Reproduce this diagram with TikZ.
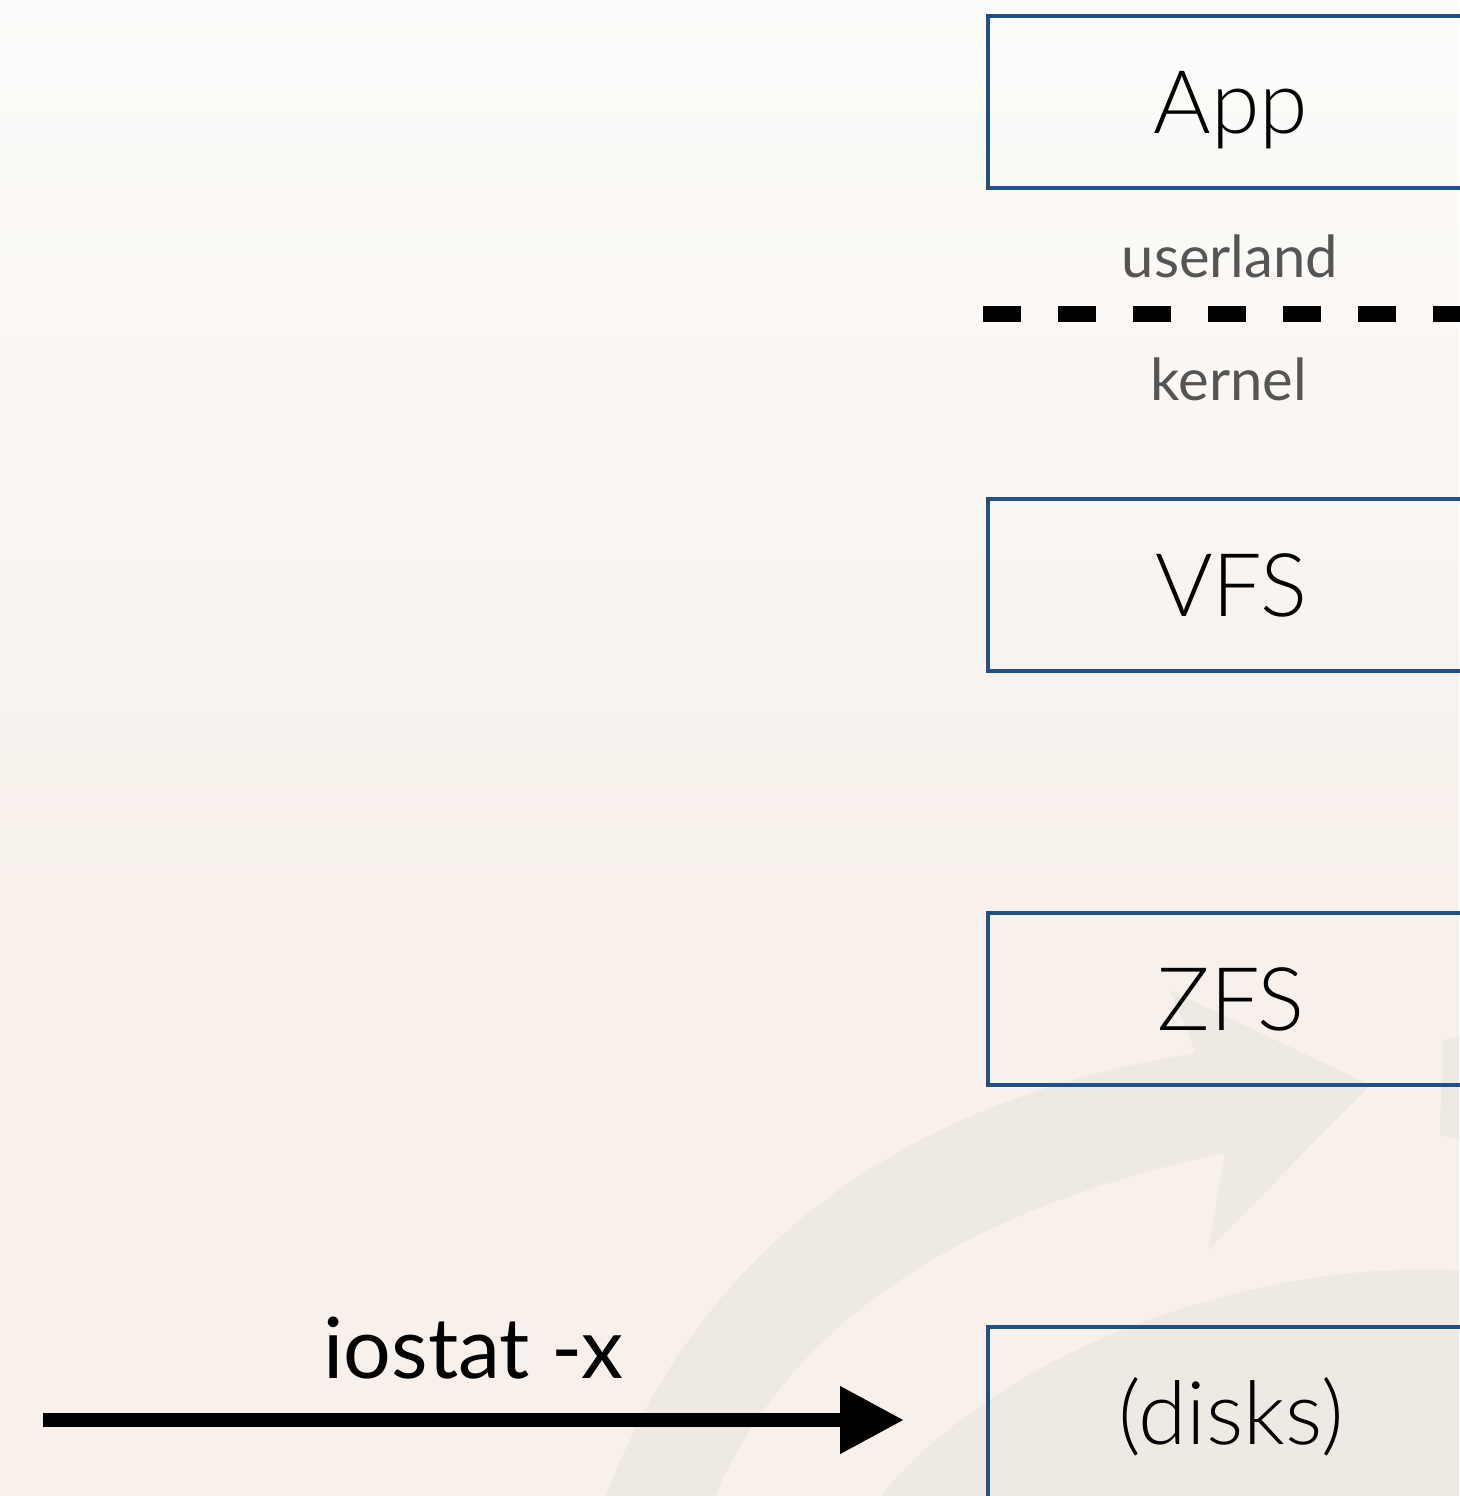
\documentclass[tikz,border=0pt]{standalone}
\usepackage{fontspec}
\setmainfont{Lato}
\newfontfamily\boxfont{Lato Light}
\usetikzlibrary{positioning,arrows.meta}

\definecolor{bgtop}{HTML}{FDFCFA}
\definecolor{bgmid}{HTML}{F9F5F1}
\definecolor{bgbot}{HTML}{F7F0EB}
\definecolor{markgray}{HTML}{EEE9E3}
\definecolor{boxblue}{HTML}{1F5087}
\definecolor{labelgray}{HTML}{555555}

\begin{document}
\begin{tikzpicture}[
        x=0.02cm, y=-0.02cm,
        node distance=8.28cm,
        layer/.style={rectangle, draw=boxblue, line width=0.08cm, minimum width=9.72cm, minimum height=3.44cm, text height=1.26cm, text depth=0pt, font=\boxfont\fontsize{50}{60}\selectfont},
        divlabel/.style={anchor=base, text=labelgray, font=\fontsize{33}{40}\selectfont},
        divider/.style={line width=0.34cm, dash pattern=on 0.76cm off 0.74cm},
        arrow/.style={-{Triangle[length=1.28cm, width=1.28cm]}, line width=0.28cm},
        label/.style={anchor=base, font=\fontsize{48}{56}\selectfont}
    ]
        % Background
        \useasboundingbox (0,0) rectangle (1459,1496);
        \shade[top color=bgtop, middle color=bgmid, bottom color=bgbot] (0,0) rectangle (1459,900);
        \fill[bgbot] (0,899) rectangle (1459,1496);

        % Watermark
        \fill[markgray] (606,1496) .. controls (700,1250) and (900,1100) .. (1196,1053)
            -- (1170,990) -- (1370,1085) -- (1208,1250) -- (1225,1153)
            .. controls (1000,1200) and (800,1300) .. (715,1496) -- cycle;
        \fill[markgray] (881,1496) .. controls (1000,1350) and (1250,1260) .. (1459,1270) -- (1459,1496) -- cycle;
        \fill[markgray] (1443,1040) -- (1459,1036) -- (1459,1140) -- (1440,1135) -- cycle;

        % Layers
        \node[layer] (app) at (1231,102) {App};
        \node[layer, below of=app, yshift=-1.38cm] (vfs) {VFS};
        \node[layer, below of=vfs] (zfs) {ZFS};
        \node[layer, below of=zfs] (disks) {(disks)};

        % Userland / kernel boundary
        \coordinate (sep) at (983,314);
        \draw[divider] (sep) -- ++(520,0);
        \node[divlabel] (userland) at (1230,278) {userland};
        \node[divlabel] (kernel) at (1229,400) {kernel};

        % Tool arrow
        \coordinate (io start) at (43,1420);
        \coordinate (io end) at (904,1420);
        \draw[arrow] (io start) -- (io end) node[label, midway, yshift=0.84cm] (iostat) {iostat -x};
    \end{tikzpicture}
\end{document}
